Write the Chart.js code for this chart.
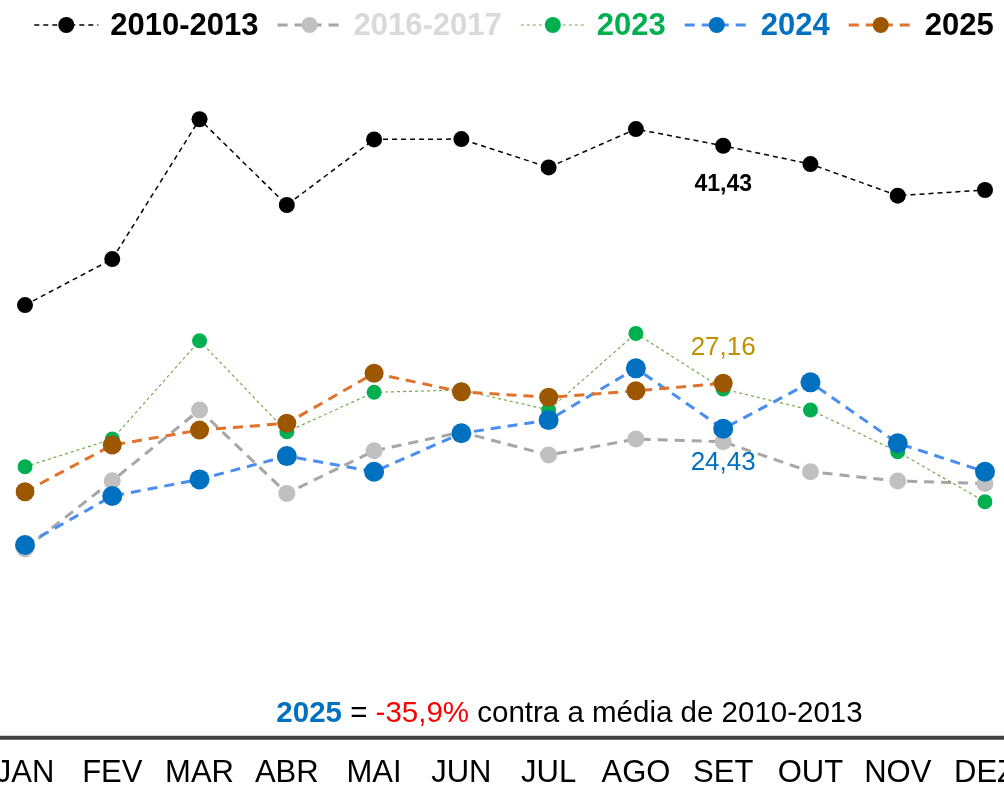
<!DOCTYPE html>
<html lang="pt-BR">
<head>
<meta charset="utf-8">
<title>Comparativo mensal</title>
<script src="https://cdn.jsdelivr.net/npm/chart.js@4.4.1/dist/chart.umd.min.js"></script>
<style>
  html, body { margin: 0; padding: 0; background: #fff; overflow: hidden; width: 1004px; height: 787px; }
  /* o grafico original aparece cortado nas bordas (JAN e DEZ) */
  #caixa { position: absolute; left: -45px; top: 0; width: 1095px; height: 809px; }
</style>
</head>
<body>
<div id="caixa"><canvas id="grafico"></canvas></div>
<script>
// Meses (eixo X)
const meses = ['JAN', 'FEV', 'MAR', 'ABR', 'MAI', 'JUN', 'JUL', 'AGO', 'SET', 'OUT', 'NOV', 'DEZ'];

// Valores
const media2010a2013 = [31.86, 34.62, 43.02, 37.87, 41.81, 41.83, 40.13, 42.43, 41.43, 40.33, 38.43, 38.77];
const media2016a2017 = [17.21, 21.31, 25.56, 20.55, 23.11, 24.23, 22.85, 23.81, 23.65, 21.85, 21.29, 21.15];
const valores2023 = [22.15, 23.81, 29.72, 24.25, 26.62, 26.76, 25.56, 30.16, 26.82, 25.56, 23.05, 20.05];
const valores2024 = [17.45, 20.39, 21.39, 22.79, 21.85, 24.16, 24.95, 28.06, 24.43, 27.22, 23.56, 21.85];
const valores2025 = [20.65, 23.45, 24.35, 24.76, 27.76, 26.65, 26.32, 26.71, 27.16, null, null, null];

// Rotulos de valor mostrados em SET
const rotulos = [
  { serie: 0, indice: 8, dy: 39, cor: '#000000', fonte: 'bold 23px "Liberation Sans", Arial, sans-serif' },
  { serie: 4, indice: 8, dy: -35, cor: '#bf9000', fonte: '26px "Liberation Sans", Arial, sans-serif' },
  { serie: 3, indice: 8, dy: 34, cor: '#0070c0', fonte: '26px "Liberation Sans", Arial, sans-serif' }
];

// Nota de rodape
const nota = [
  { texto: '2025', cor: '#0070c0', negrito: true },
  { texto: ' = ', cor: '#000000' },
  { texto: '-35,9%', cor: '#ff0000' },
  { texto: ' contra a média de 2010-2013', cor: '#000000' }
];

function serie(label, dados, linha, ponto, legenda, largura, traco, raio, ordem) {
  return {
    label: label,
    data: dados,
    borderColor: linha,
    borderWidth: largura,
    borderDash: traco,
    pointBackgroundColor: ponto,
    pointBorderWidth: 0,
    pointRadius: raio,
    pointHoverRadius: raio,
    tension: 0,
    fill: false,
    order: ordem,
    corLegenda: legenda
  };
}

// Legenda desenhada a mao: linha tracejada com o ponto no meio
const legendaLinhas = {
  id: 'legendaLinhas',
  afterDraw(chart) {
    const ctx = chart.ctx;
    const series = chart.data.datasets;
    const larguraMarca = 64, folgaTexto = 12, folgaItem = 19;
    ctx.save();
    ctx.font = 'bold 31px "Liberation Sans", Arial, sans-serif';
    ctx.textBaseline = 'middle';
    let total = 0;
    series.forEach((s, i) => {
      total += larguraMarca + folgaTexto + ctx.measureText(s.label).width;
      if (i < series.length - 1) total += folgaItem;
    });
    let x = (chart.chartArea.left + chart.chartArea.right) / 2 + 9 - total / 2;
    const y = 25;
    series.forEach(s => {
      ctx.strokeStyle = s.borderColor;
      ctx.lineWidth = s.borderWidth;
      ctx.setLineDash(s.borderDash);
      ctx.beginPath();
      ctx.moveTo(x, y);
      ctx.lineTo(x + larguraMarca, y);
      ctx.stroke();
      ctx.setLineDash([]);
      ctx.fillStyle = s.pointBackgroundColor;
      ctx.beginPath();
      ctx.arc(x + larguraMarca / 2, y, 8, 0, Math.PI * 2);
      ctx.fill();
      x += larguraMarca + folgaTexto;
      ctx.fillStyle = s.corLegenda;
      ctx.fillText(s.label, x, y + 1);
      x += ctx.measureText(s.label).width + folgaItem;
    });
    ctx.restore();
  }
};

// Linha do eixo, rotulos de valor e nota de rodape
const textosExtras = {
  id: 'textosExtras',
  beforeDatasetsDraw(chart) {
    // linha do eixo X ocupando toda a largura
    const ctx = chart.ctx;
    ctx.save();
    ctx.strokeStyle = '#404040';
    ctx.lineWidth = 4;
    ctx.beginPath();
    ctx.moveTo(0, chart.chartArea.bottom);
    ctx.lineTo(chart.width, chart.chartArea.bottom);
    ctx.stroke();
    ctx.restore();
  },
  afterDatasetsDraw(chart) {
    const ctx = chart.ctx;
    ctx.save();
    ctx.textAlign = 'center';
    ctx.textBaseline = 'middle';
    rotulos.forEach(r => {
      const ponto = chart.getDatasetMeta(r.serie).data[r.indice];
      const valor = chart.data.datasets[r.serie].data[r.indice];
      ctx.font = r.fonte;
      ctx.fillStyle = r.cor;
      ctx.fillText(valor.toFixed(2).replace('.', ','), ponto.x, ponto.y + r.dy);
    });

    // nota centralizada sobre o eixo
    ctx.textAlign = 'left';
    ctx.textBaseline = 'alphabetic';
    const fonte = n => (n ? 'bold ' : '') + '29.5px "Liberation Sans", Arial, sans-serif';
    let total = 0;
    nota.forEach(p => { ctx.font = fonte(p.negrito); total += ctx.measureText(p.texto).width; });
    let x = chart.chartArea.left + 544.5 - total / 2;
    const y = chart.chartArea.bottom - 16;
    nota.forEach(p => {
      ctx.font = fonte(p.negrito);
      ctx.fillStyle = p.cor;
      ctx.fillText(p.texto, x, y);
      x += ctx.measureText(p.texto).width;
    });
    ctx.restore();
  }
};

function criarGrafico() {
  const ctx = document.getElementById('grafico').getContext('2d');

  const chartData = {
    labels: meses,
    datasets: [
      serie('2010-2013', media2010a2013, '#000000', '#000000', '#000000', 1.5, [5, 4], 8, 1),
      serie('2016-2017', media2016a2017, '#a6a6a6', '#c0c0c0', '#d9d9d9', 3, [10, 7], 8.5, 5),
      serie('2023', valores2023, '#70ad47', '#00b050', '#00b050', 1.2, [3, 3], 7.5, 4),
      serie('2024', valores2024, '#4a8df0', '#0070c0', '#0070c0', 3, [10, 7], 10, 3),
      serie('2025', valores2025, '#e0722c', '#9c5700', '#000000', 3, [10, 7], 9.5, 2)
    ]
  };

  const opciones = {
    responsive: true,
    maintainAspectRatio: false,
    animation: false,
    layout: { padding: { top: 50, left: 70, right: 65, bottom: 0 } },
    plugins: {
      legend: { display: false },
      tooltip: { enabled: false }
    },
    scales: {
      x: {
        offset: false,
        grid: { display: false, drawTicks: false },
        border: { display: false },
        ticks: {
          padding: 17,
          color: '#000000',
          font: { family: '"Liberation Sans", Arial, sans-serif', size: 31 },
          maxRotation: 0,
          autoSkip: false
        }
      },
      y: {
        display: false,
        min: 5.87,
        max: 47.18
      }
    }
  };

  new Chart(ctx, {
    type: 'line',
    data: chartData,
    options: opciones,
    plugins: [legendaLinhas, textosExtras]
  });
}

criarGrafico();
</script>
</body>
</html>
